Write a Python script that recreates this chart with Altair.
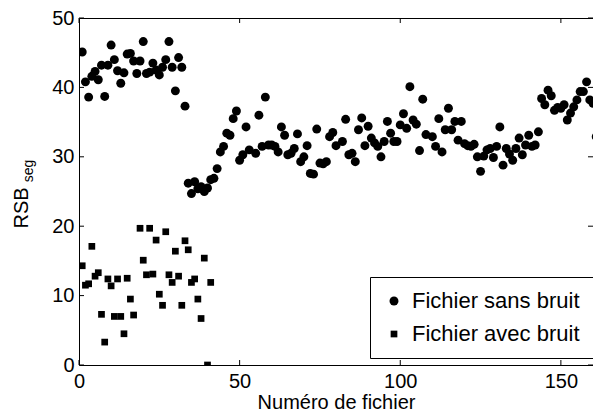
import altair as alt
import pandas as pd

# Fichier sans bruit (circles)
clean_x = list(range(1, 34)) + list(range(34, 50)) + [50, 51, 52, 53, 55, 56, 57, 58, 59, 60, 61, 62, 63, 64, 65, 66, 67, 68, 69, 70, 71, 72, 73, 74, 75, 76, 77, 78, 79, 80, 82, 83, 84, 85, 86, 87, 88, 89, 90, 91, 92, 93, 94, 95, 96, 97, 98, 99, 100, 101, 102, 103, 104, 105, 106, 107, 108, 110, 111, 112, 113, 114, 115, 116, 117, 118, 119, 120, 121, 122, 123, 124, 125, 126, 127, 128, 129, 130] + list(range(131, 162))
clean_y = [45.1, 40.8, 38.6, 41.6, 42.3, 41.1, 43.2, 38.7, 43.2, 46.1,
           44.0, 42.4, 40.6, 42.1, 44.8, 44.9, 43.8, 42.0, 43.8, 46.6,
           42.0, 42.2, 43.5, 42.5, 41.8, 42.9, 44.0, 46.6, 42.9, 39.5,
           44.3, 42.9, 37.3,
           26.2, 24.7, 26.4, 25.4, 25.7, 25.0, 25.5, 26.7, 26.9, 28.3,
           30.7, 31.5, 33.4, 33.1, 35.5, 36.6,
           29.5, 30.3, 34.3, 31.0, 30.5, 36.0, 31.5, 38.6, 31.7, 31.7,
           31.5, 30.7, 34.3, 33.1, 30.3, 30.5, 31.2, 33.3, 29.3, 30.0,
           31.6, 27.6, 27.5, 34.0, 29.1, 29.0, 29.3, 32.9, 33.5, 31.6,
           32.2, 35.4, 30.3, 30.5, 29.3, 33.9, 35.6, 31.6, 34.4, 32.7,
           32.0, 31.5, 30.0, 32.2, 35.1, 33.4, 32.2, 32.2, 34.6, 36.2,
           34.1, 40.1, 35.3, 34.7, 30.9, 38.3, 33.2, 32.9, 31.5, 35.5,
           30.7, 33.9, 37.0, 33.9, 35.1, 32.4, 35.1, 31.9, 31.6, 31.5,
           31.8, 30.0, 27.9, 30.1, 31.0, 31.2, 29.9, 31.5,
           34.3, 28.8, 31.2, 30.4, 29.5, 31.2, 32.7, 30.3, 31.7, 33.1,
           31.5, 31.7, 33.6, 38.4, 37.5, 39.6, 38.8, 36.7, 37.1, 37.0,
           37.5, 35.3, 36.3, 37.2, 38.2, 39.4, 39.4, 40.8, 38.2, 37.7,
           32.9]

# Fichier avec bruit (squares)
noisy_x = list(range(1, 18)) + list(range(19, 42))
noisy_y = [14.3, 11.5, 11.7, 17.1, 12.8, 13.3, 7.3, 3.3, 12.4, 11.4,
           7.0, 12.4, 7.0, 4.5, 12.5, 9.5, 7.2,
           19.7, 15.1, 13.0, 19.7, 13.1, 18.0, 10.2, 8.6, 19.2, 13.0,
           11.9, 16.4, 12.8, 8.6, 17.9, 16.6, 11.9, 12.4, 9.5, 6.7,
           15.4, 0.0, 11.9]

series = ["Fichier sans bruit", "Fichier avec bruit"]
x_ticks = [0, 50, 100, 150]
y_ticks = [0, 10, 20, 30, 40, 50]

FONT = "Liberation Sans"
W, H = 514, 347

df = pd.concat([
    pd.DataFrame({"n": clean_x, "v": clean_y, "s": series[0]}),
    pd.DataFrame({"n": noisy_x, "v": noisy_y, "s": series[1]}),
])

xs = alt.Scale(domain=[0, 160], nice=False, zero=False)
ys = alt.Scale(domain=[0, 50], nice=False)

legend = alt.Legend(orient="none", legendX=291, legendY=259, title=None,
                    strokeColor="black", fillColor="white", padding=13,
                    labelFont=FONT, labelFontSize=22, labelColor="black", labelLimit=400,
                    labelOffset=7, rowPadding=11, symbolFillColor="black",
                    symbolStrokeWidth=0, cornerRadius=0)

points = alt.Chart(df).mark_point(filled=True, clip=True, opacity=1, color="black").encode(
    x=alt.X("n:Q", scale=xs, axis=alt.Axis(values=x_ticks, title="Numéro de fichier",
                                           tickSize=0, labelPadding=6, titlePadding=1, labelFlush=False,
                                           labelFont=FONT, labelFontSize=20, labelColor="black",
                                           titleFont=FONT, titleFontSize=20, titleColor="black",
                                           titleFontWeight="normal", domain=False, grid=False)),
    y=alt.Y("v:Q", scale=ys, axis=alt.Axis(values=y_ticks, title=None, tickSize=0, labelPadding=5,
                                           labelFlush=False,
                                           labelFont=FONT, labelFontSize=20, labelColor="black",
                                           domain=False, grid=False)),
    shape=alt.Shape("s:N", scale=alt.Scale(domain=series, range=["circle", "square"]), legend=legend, sort=series),
    size=alt.Size("s:N", scale=alt.Scale(domain=series, range=[80, 45]), legend=legend, sort=series),
)

xt = pd.DataFrame({"t": x_ticks})
yt = pd.DataFrame({"t": y_ticks})
tick_x_bot = alt.Chart(xt).mark_rule(color="black").encode(x=alt.X("t:Q", scale=xs), y=alt.value(H), y2=alt.value(H - 5))
tick_x_top = alt.Chart(xt).mark_rule(color="black").encode(x=alt.X("t:Q", scale=xs), y=alt.value(0), y2=alt.value(5))
tick_y_l = alt.Chart(yt).mark_rule(color="black").encode(y=alt.Y("t:Q", scale=ys), x=alt.value(0), x2=alt.value(5))
tick_y_r = alt.Chart(yt).mark_rule(color="black").encode(y=alt.Y("t:Q", scale=ys), x=alt.value(W), x2=alt.value(W - 5))

ttl_main = alt.Chart(pd.DataFrame({"t": ["RSB"]})).mark_text(
    angle=270, font=FONT, fontSize=20, align="center", baseline="middle", color="black"
).encode(text="t:N", x=alt.value(-57), y=alt.value(190))
ttl_sub = alt.Chart(pd.DataFrame({"t": ["seg"]})).mark_text(
    angle=270, font=FONT, fontSize=14, align="center", baseline="middle", color="black"
).encode(text="t:N", x=alt.value(-50), y=alt.value(153))

chart = alt.layer(tick_x_bot, tick_x_top, tick_y_l, tick_y_r, points, ttl_main, ttl_sub).properties(
    width=W, height=H,
    autosize=alt.AutoSizeParams(type="none"),
    padding={"left": 71, "top": 10, "right": 0, "bottom": 49},
    background="white",
).configure_view(stroke="black", strokeWidth=1)

chart.save("out.html", embed_options={"renderer": "svg", "actions": False})
